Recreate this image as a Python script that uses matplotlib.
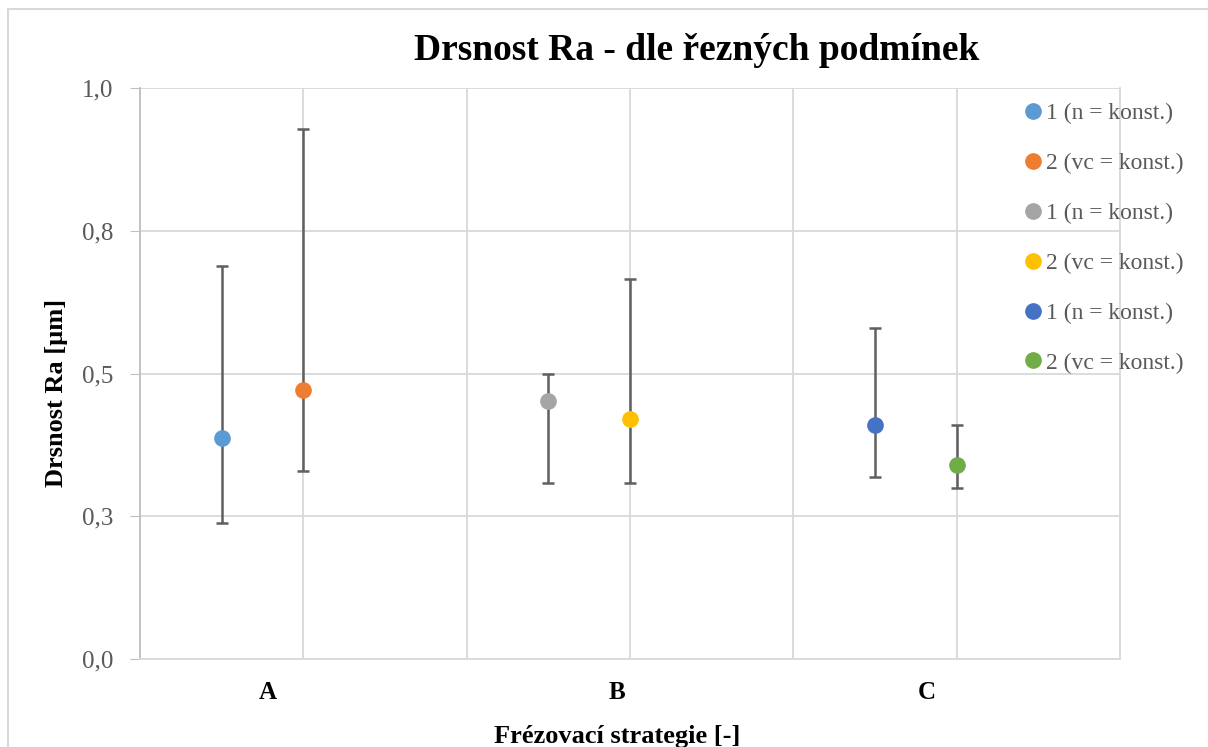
import numpy as np
import matplotlib.pyplot as plt
from matplotlib.lines import Line2D

# data
x_pos = [0.25, 0.5, 1.25, 1.5, 2.25, 2.5]
ra_mean = [0.387, 0.471, 0.451, 0.420, 0.409, 0.339]
ra_max = [0.689, 0.929, 0.500, 0.666, 0.579, 0.409]
ra_min = [0.239, 0.329, 0.309, 0.309, 0.319, 0.299]
series_labels = ["1 (n = konst.)", "2 (vc = konst.)"] * 3
colors = ["#5B9BD5", "#ED7D31", "#A5A5A5", "#FFC000", "#4472C4", "#70AD47"]

strategies = ["A", "B", "C"]
strategy_pos = [0.39, 1.46, 2.41]
yticks = [0.0, 0.25, 0.5, 0.75, 1.0]
ytick_labels = ["0,0", "0,3", "0,5", "0,8", "1,0"]

plt.rcParams["font.family"] = ["Liberation Serif", "DejaVu Serif"]

W, H = 1208, 747
fig = plt.figure(figsize=(W / 100, H / 100), dpi=100)
ax = fig.add_axes([140 / W, 1 - 659 / H, 980 / W, 571 / H])

mean = np.array(ra_mean)
err = [mean - np.array(ra_min), np.array(ra_max) - mean]
for i in range(len(x_pos)):
    ax.errorbar(x_pos[i], ra_mean[i], yerr=[[err[0][i]], [err[1][i]]],
                fmt="none", ecolor="#5F5F5F", elinewidth=1.8, capsize=4.5,
                capthick=1.8, zorder=3)
    ax.plot(x_pos[i], ra_mean[i], "o", color=colors[i], markersize=11,
            zorder=4)

ax.set_xlim(0, 3)
ax.set_ylim(0, 1)
ax.set_yticks(yticks)
ax.set_yticklabels(ytick_labels)
ax.set_xticks(np.arange(0, 3.01, 0.5), minor=True)
ax.set_xticks(strategy_pos)
ax.set_xticklabels(strategies, fontsize=18, fontweight="bold")
ax.tick_params(axis="x", which="both", length=0, pad=16)
ax.tick_params(axis="y", length=7, color="#BFBFBF", labelcolor="#595959",
               labelsize=18, pad=12)
ax.grid(True, axis="y", color="#D9D9D9", linewidth=1.3)
ax.grid(True, axis="x", which="minor", color="#D9D9D9", linewidth=1.3)
ax.grid(False, axis="x", which="major")
ax.spines["top"].set_visible(False)
ax.spines["right"].set_color("#D9D9D9")
ax.spines["bottom"].set_color("#D9D9D9")
ax.spines["left"].set_color("#BFBFBF")
for s in ax.spines.values():
    s.set_linewidth(1.3)

fig.text(697 / W, 1 - 50 / H, "Drsnost Ra - dle řezných podmínek",
         ha="center", va="center", fontsize=27, fontweight="bold")
fig.text(57 / W, 1 - 393 / H, "Drsnost Ra [µm]", rotation=90,
         ha="center", va="center", fontsize=19, fontweight="bold")
fig.text(617 / W, 1 - 737 / H, "Frézovací strategie [-]",
         ha="center", va="center", fontsize=19, fontweight="bold")

handles = [Line2D([], [], marker="o", linestyle="none", color=c, markersize=11)
           for c in colors]
leg = fig.legend(handles, series_labels, loc="upper left",
                 bbox_to_anchor=(1008 / W, 1 - 91 / H), frameon=False,
                 fontsize=17, labelspacing=1.2, handletextpad=0.0,
                 handlelength=1.1, borderpad=0)
for t in leg.get_texts():
    t.set_color("#595959")

# outer chart border
fig.add_artist(Line2D([8 / W, 8 / W], [0, 1 - 9 / H], color="#D9D9D9", lw=1.5))
fig.add_artist(Line2D([8 / W, 1], [1 - 9 / H, 1 - 9 / H], color="#D9D9D9", lw=1.5))

fig.savefig("out.png", dpi=100)
